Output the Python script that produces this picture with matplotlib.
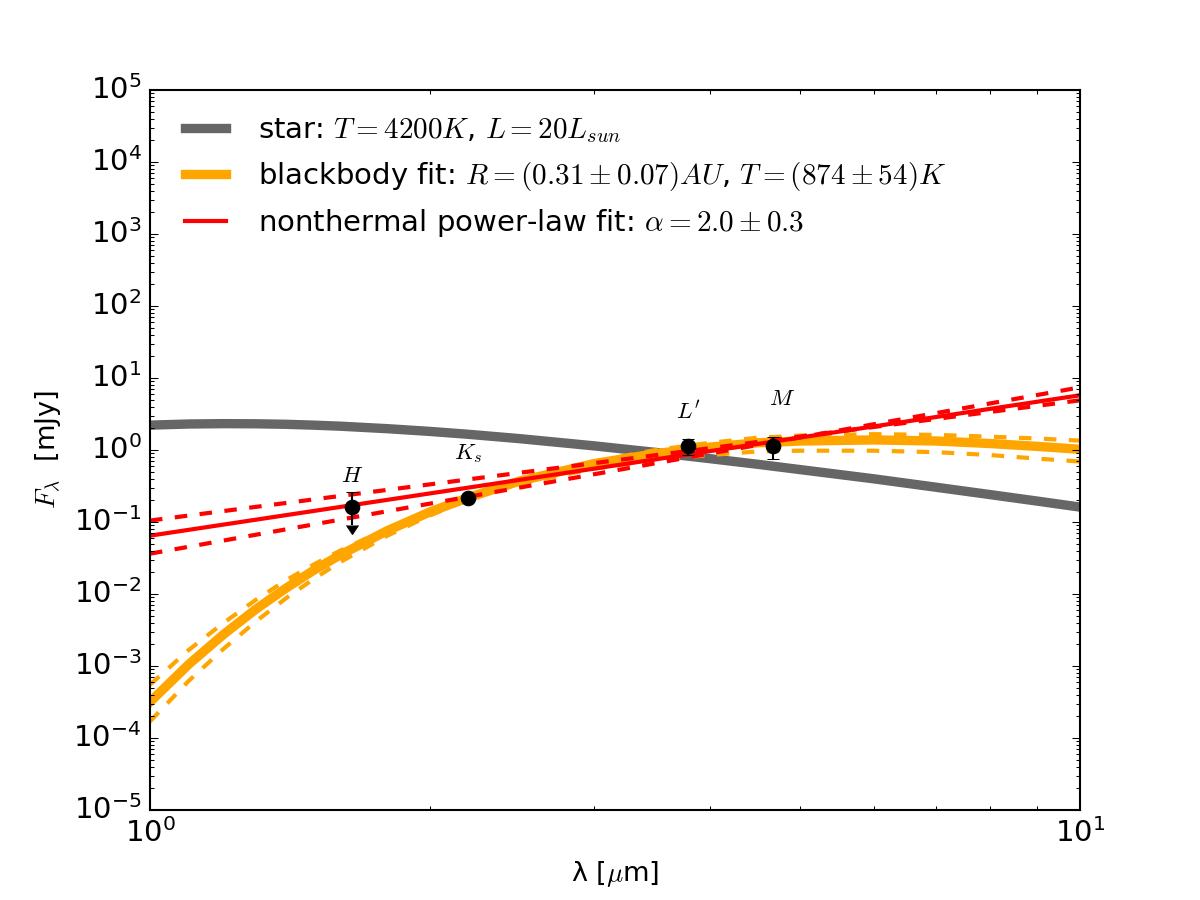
import numpy as np
import matplotlib
matplotlib.use('Agg')
import matplotlib.pyplot as plt
from matplotlib.ticker import LogLocator, NullFormatter

plt.style.use('classic')
plt.rcParams['mathtext.fontset'] = 'cm'
plt.rcParams['font.family'] = ['DejaVu Sans']

# wavelength grid [micron] and log10(flux [mJy])
lam = np.array([1.0, 1.1, 1.2, 1.3, 1.4, 1.5, 1.6, 1.8, 2.0, 2.2, 2.5,
                3.0, 3.5, 4.0, 4.5, 5.0, 6.0, 7.0, 8.0, 9.0, 10.0])
star_log = np.array([0.345, 0.361, 0.366, 0.364, 0.357, 0.345, 0.331, 0.296, 0.258, 0.218, 0.157,
                     0.058, -0.034, -0.12, -0.198, -0.272, -0.40, -0.517, -0.619, -0.71, -0.793])
bb_log = np.array([-3.50, -2.98, -2.56, -2.21, -1.92, -1.67, -1.46, -1.12, -0.86, -0.66, -0.43,
                   -0.19, -0.05, 0.04, 0.10, 0.125, 0.14, 0.125, 0.09, 0.05, 0.01])
bb_hot_log = np.array([-3.26, -2.78, -2.40, -2.08, -1.81, -1.59, -1.40, -1.09, -0.85, -0.68, -0.47,
                       -0.26, -0.14, -0.07, -0.02, -0.01, -0.01, -0.03, -0.07, -0.12, -0.16])
bb_cool_log = np.array([-3.77, -3.21, -2.76, -2.38, -2.06, -1.79, -1.56, -1.19, -0.91, -0.69, -0.43,
                        -0.16, 0.00, 0.10, 0.17, 0.20, 0.22, 0.21, 0.185, 0.16, 0.13])

# power-law fit and its two bounds (straight lines in log-log)
pl_lam = np.array([1.0, 10.0])
pl_log = np.array([-1.19, 0.76])
pl_a_log = np.array([-0.98, 0.69])
pl_b_log = np.array([-1.44, 0.87])

# photometry
bands = ['$H$', '$K_s$', "$L'$", '$M$']
band_lam = [1.65, 2.20, 3.79, 4.68]
band_flux = [0.162, 0.215, 1.14, 1.14]
band_err_lo = [0.0, 0.02, 0.28, 0.38]
band_err_hi = [0.0, 0.02, 0.27, 0.36]
H_low, H_high = 0.09, 0.26   # H band is an upper limit
label_lam = [1.65, 2.20, 3.79, 4.78]
label_flux = [0.445, 0.88, 3.37, 5.16]

fig = plt.figure(figsize=(8, 6), dpi=150, facecolor='white')
ax = fig.add_subplot(111)

ax.plot(lam, 10**star_log, color='0.4', lw=4.5,
        label='star: $T=4200K$, $L=20L_{sun}$')
ax.plot(lam, 10**bb_log, color='orange', lw=4.5,
        label='blackbody fit: $R=(0.31\\pm0.07)AU$, $T=(874\\pm54)K$')
ax.plot(lam, 10**bb_hot_log, '--', color='orange', lw=2)
ax.plot(lam, 10**bb_cool_log, '--', color='orange', lw=2)
ax.plot(pl_lam, 10**pl_log, color='r', lw=2,
        label='nonthermal power-law fit: $\\alpha=2.0\\pm0.3$')
ax.plot(pl_lam, 10**pl_a_log, '--', color='r', lw=2)
ax.plot(pl_lam, 10**pl_b_log, '--', color='r', lw=2)

# H upper limit: arrow down plus a cap above
ax.errorbar([band_lam[0]], [band_flux[0]], yerr=[[band_flux[0] - H_low], [0]],
            uplims=True, fmt='o', color='k', ecolor='k', capsize=3, markersize=7)
ax.errorbar([band_lam[0]], [band_flux[0]], yerr=[[0], [H_high - band_flux[0]]],
            fmt='none', ecolor='k', capsize=3)
ax.errorbar(band_lam[1:], band_flux[1:], yerr=[band_err_lo[1:], band_err_hi[1:]],
            fmt='o', color='k', ecolor='k', capsize=3, markersize=7)

for name, lx, ly in zip(bands, label_lam, label_flux):
    ax.text(lx, ly, name, fontsize=11, ha='center', va='center')

ax.set_xscale('log')
ax.set_yscale('log')
ax.set_xlim(1, 10)
ax.set_ylim(1e-5, 1e5)
ax.yaxis.set_major_locator(LogLocator(base=10, numticks=100))
ax.yaxis.set_minor_locator(LogLocator(base=10, subs=np.arange(2, 10), numticks=100))
ax.xaxis.set_minor_locator(LogLocator(base=10, subs=np.arange(2, 10), numticks=100))
ax.xaxis.set_minor_formatter(NullFormatter())
ax.yaxis.set_minor_formatter(NullFormatter())
ax.tick_params(labelsize=14)

ax.set_xlabel('λ [$\\mu$m]', fontsize=13)
ax.set_ylabel('$F_\\lambda$  [mJy]', fontsize=13)

ax.legend(loc='upper left', frameon=False, fontsize=14, handlelength=2.0)

fig.savefig('out.png', dpi=150, facecolor='white')
